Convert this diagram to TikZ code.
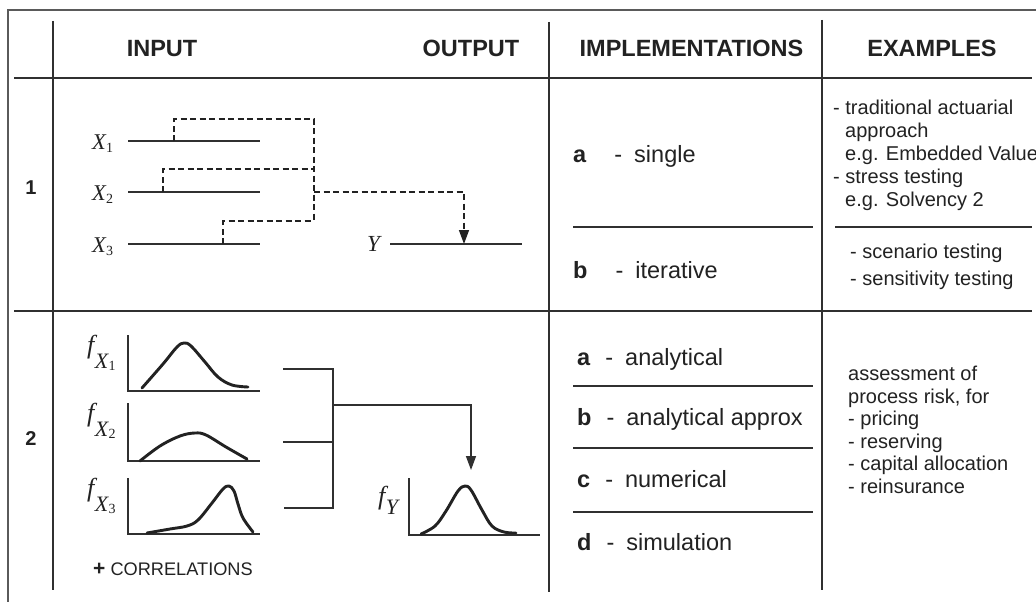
\documentclass[tikz,border=0pt]{standalone}
\usepackage{fontspec}
\setmainfont{Liberation Sans}
\newfontfamily\serifit{Liberation Serif}
\usetikzlibrary{arrows.meta}
\definecolor{ink}{HTML}{222222}
\definecolor{rule}{HTML}{303030}
\definecolor{framec}{HTML}{5A5A5A}

% text sizes (1pt = 1 unit of the picture)
\newcommand{\hdrfont}{\fontsize{23.5}{28}\selectfont\bfseries}
\newcommand{\impfont}{\fontsize{23.5}{28}\selectfont}
\newcommand{\exfont}{\fontsize{20}{23}\selectfont}
\newcommand{\numfont}{\fontsize{20}{24}\selectfont\bfseries}
% variable labels X_i and densities f_{X_i}
\newcommand{\varX}[1]{{\serifit\fontsize{22.5}{24}\selectfont\itshape X\kern0.3pt\raisebox{-3.5pt}{\upshape\fontsize{14}{15}\selectfont #1}}}
\newcommand{\varY}{{\serifit\fontsize{23}{24}\selectfont\itshape Y}}
\newcommand{\densX}[1]{{\serifit\fontsize{26}{28}\selectfont\itshape f\kern0.5pt\raisebox{-15pt}{\fontsize{22}{23}\selectfont X\kern0.3pt\raisebox{-2.5pt}{\upshape\fontsize{14}{15}\selectfont #1}}}}
\newcommand{\densY}{{\serifit\fontsize{26}{28}\selectfont\itshape f\kern0.5pt\raisebox{-10pt}{\fontsize{22}{23}\selectfont Y}}}
% implementation entry: bold letter, dash, description
\newcommand{\impl}[4]{\textbf{#1}\hspace{#2}-\hspace{#3}#4}

\begin{document}
\begin{tikzpicture}[x=1pt,y=-1pt,
  rulel/.style={draw=rule, line width=1.4pt},
  axisl/.style={draw=rule, line width=1.5pt},
  curvel/.style={draw=ink, line width=2.9pt, line cap=round, line join=round},
  dashl/.style={draw=ink, line width=1.4pt, dash pattern=on 6pt off 3.5pt},
  linkl/.style={draw=rule, line width=1.4pt},
  arrowhd/.style={-{Triangle[length=14pt,width=10pt]}},
  hd/.style={inner sep=0pt, anchor=base, text=ink, font=\hdrfont},
  txt/.style={inner sep=0pt, anchor=base west, text=ink},
  imp/.style={txt, font=\impfont},
  ex/.style={txt, font=\exfont},
]
\useasboundingbox (0,0) rectangle (1036,602);
\fill[white] (0,0) rectangle (1036,602);

% outer frame
\draw[draw=framec, line width=2pt] (8,602) -- (8,10) -- (1036,10);

% table rules
\draw[rulel] (53,21) -- (53,590);
\draw[rulel] (549,22) -- (549,592);
\draw[rulel] (822,20) -- (822,590);
\draw[rulel] (14,78) -- (1032,78);
\draw[rulel] (14,311) -- (1032,311);
\draw[rulel] (573,227) -- (813,227);
\draw[rulel] (835,227) -- (1032,227);
\draw[rulel] (573,386) -- (813,386);
\draw[rulel] (573,448) -- (813,448);
\draw[rulel] (573,512) -- (813,512);

% headers
\node[hd] (hin)  at (162,57) {INPUT};
\node[hd] (hout) at (471,57) {OUTPUT};
\node[hd] (himp) at (691.5,57) {IMPLEMENTATIONS};
\node[hd] (hex)  at (932,57) {EXAMPLES};

% row numbers
\node[inner sep=0pt, anchor=base, text=ink, font=\numfont] (r1) at (31,194) {1};
\node[inner sep=0pt, anchor=base, text=ink, font=\numfont] (r2) at (31,445) {2};

% ---------- row 1: deterministic inputs ----------
\node[txt] (lx1) at (92,149) {\varX{1}};
\node[txt] (lx2) at (92,200) {\varX{2}};
\node[txt] (lx3) at (92,252) {\varX{3}};
\node[txt] (ly)  at (367,251) {\varY};

\coordinate (x1s) at (128,141); \coordinate (x1e) at (260,141);
\coordinate (x2s) at (128,192); \coordinate (x2e) at (260,192);
\coordinate (x3s) at (128,244); \coordinate (x3e) at (260,244);
\coordinate (ys)  at (390,244); \coordinate (ye)  at (522,244);
\draw[axisl] (x1s) -- (x1e);
\draw[axisl] (x2s) -- (x2e);
\draw[axisl] (x3s) -- (x3e);
\draw[axisl] (ys) -- (ye);

\coordinate (x1t) at (174,141);
\coordinate (x2t) at (163,192);
\coordinate (x3t) at (223,244);
\coordinate (bus1) at (314,119);
\coordinate (bus2) at (314,169);
\coordinate (bus3) at (314,221);
\coordinate (busm) at (314,192);
\coordinate (yt)  at (464,244);

\draw[dashl] (x1t) |- (bus1) -- (bus3);
\draw[dashl] (x2t) |- (bus2);
\draw[dashl] (x3t) |- (bus3);
\draw[dashl, arrowhd] (busm) -| (yt);

% implementations, row 1
\node[imp] (i1a) at (573,162) {\impl{a}{28pt}{12pt}{single}};
\node[imp] (i1b) at (573,278) {\impl{b}{28pt}{12pt}{iterative}};

% examples, row 1
\node[ex] (e1)  at (833,114) {- traditional actuarial};
\node[ex] (e2)  at (845,137) {approach};
\node[ex] (e3)  at (845,160) {e.g. Embedded Value};
\node[ex] (e4)  at (833,183) {- stress testing};
\node[ex] (e5)  at (845,206) {e.g. Solvency 2};
\node[ex] (e6)  at (850,258) {- scenario testing};
\node[ex] (e7)  at (850,285) {- sensitivity testing};

% ---------- row 2: stochastic inputs ----------
\node[txt] (fx1) at (87,353) {\densX{1}};
\node[txt] (fx2) at (87,421) {\densX{2}};
\node[txt] (fx3) at (87,496) {\densX{3}};
\node[txt] (fy)  at (378,504) {\densY};

% axes
\draw[axisl] (128,335) -- (128,391) -- (260,391);
\draw[axisl] (128,403) -- (128,461) -- (260,461);
\draw[axisl] (128,478) -- (128,534) -- (260,534);
\draw[axisl] (409,478) -- (409,535) -- (540,535);

% density curves
\draw[curvel] plot[smooth, tension=0.6] coordinates
  {(142,388) (163,364) (177,347) (184,343) (191,346) (205,362) (218,377) (232,385) (248,387)};
\draw[curvel] plot[smooth, tension=0.6] coordinates
  {(140,461) (160,446) (180,436) (195,433) (206,435) (226,447) (247,459)};
\draw[curvel] plot[smooth, tension=0.6] coordinates
  {(147,533) (170,529) (187,526) (198,520) (212,503) (223,489) (229,486) (234,491) (238,504) (243,518) (253,532)};
\draw[curvel] plot[smooth, tension=0.6] coordinates
  {(421,534) (435,526) (446,511) (458,491) (465,486) (471,490) (482,510) (492,526) (504,532) (516,533)};

% combination of the input densities
\coordinate (d1) at (283,369); \coordinate (j1) at (333,369);
\coordinate (d2) at (283,442); \coordinate (j2) at (333,442);
\coordinate (d3) at (284,508); \coordinate (j3) at (333,508);
\coordinate (jm) at (333,405);
\coordinate (fyt) at (471,470);
\draw[linkl] (d1) -- (j1) -- (j3) -- (d3);
\draw[linkl] (d2) -- (j2);
\draw[linkl, arrowhd] (jm) -| (fyt);

\node[txt, font=\fontsize{18.2}{22}\selectfont] (corr) at (93,575) {{\fontsize{21}{22}\selectfont\textbf{+}} CORRELATIONS};

% implementations, row 2
\node[imp] (i2a) at (577,365) {\impl{a}{15pt}{12pt}{analytical}};
\node[imp] (i2b) at (577,425) {\impl{b}{15pt}{12pt}{analytical approx}};
\node[imp] (i2c) at (577,487) {\impl{c}{15pt}{12pt}{numerical}};
\node[imp] (i2d) at (577,550) {\impl{d}{15pt}{12pt}{simulation}};

% examples, row 2
\node[ex] (g1) at (848,380) {assessment of};
\node[ex] (g2) at (848,403) {process risk, for};
\node[ex] (g3) at (848,425) {- pricing};
\node[ex] (g4) at (848,448) {- reserving};
\node[ex] (g5) at (848,470) {- capital allocation};
\node[ex] (g6) at (848,493) {- reinsurance};
\end{tikzpicture}
\end{document}
